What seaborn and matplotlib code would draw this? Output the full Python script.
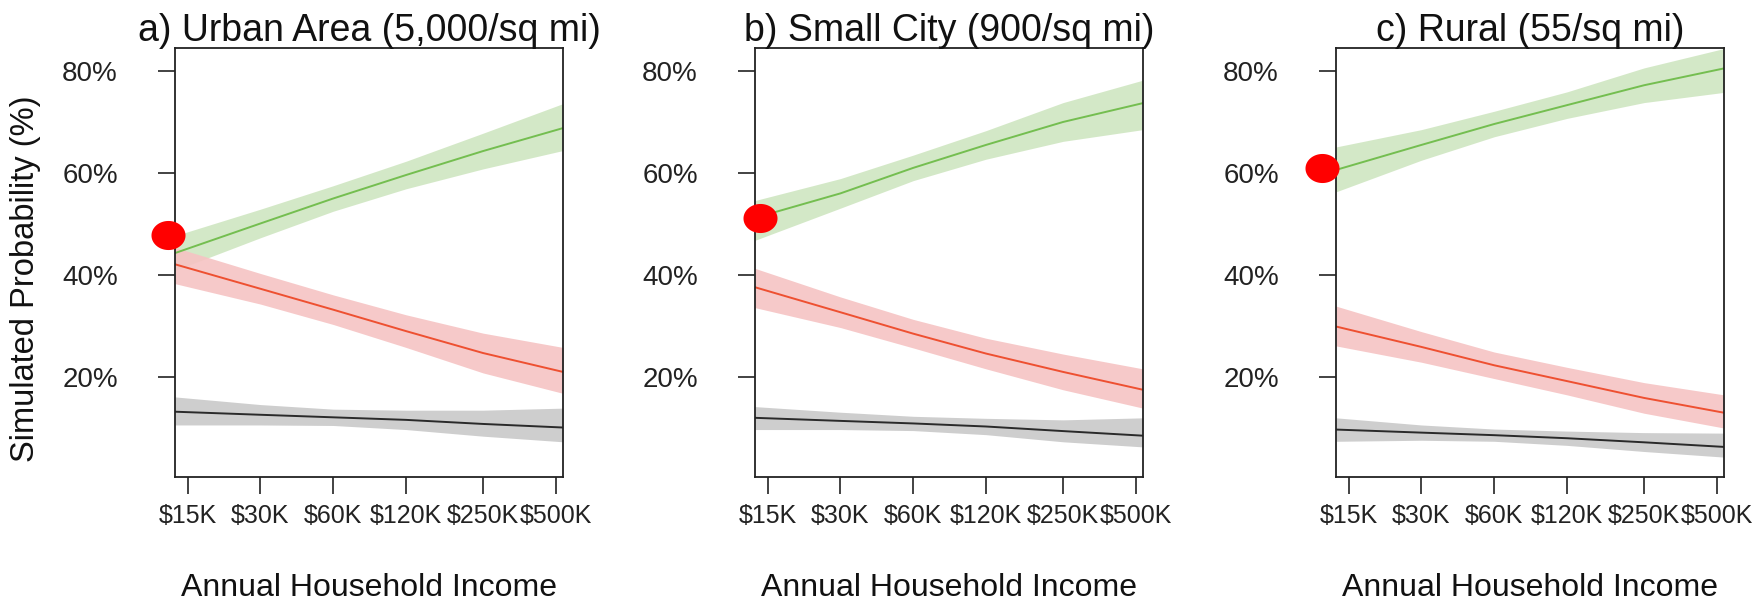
import matplotlib.pyplot as plt
import numpy as np
import pandas as pd
import seaborn as sns
from matplotlib.path import Path
from matplotlib.ticker import FixedLocator, NullLocator

# income grid in $K (first and last points sit on the panel edges)
income = [13.3, 30, 60, 120, 250, 535]

titles = ["a) Urban Area (5,000/sq mi)", "b) Small City (900/sq mi)", "c) Rural (55/sq mi)"]

green_mean = [[44.3, 50.1, 55.0, 59.6, 64.3, 68.8],
              [51.2, 56.0, 61.0, 65.5, 70.0, 73.7],
              [60.6, 65.5, 69.6, 73.3, 77.2, 80.5]]
green_lo = [[40.9, 47.3, 52.5, 56.9, 60.8, 64.4],
            [46.8, 53.1, 58.5, 62.7, 66.2, 68.5],
            [56.3, 62.5, 67.1, 70.7, 73.8, 75.8]]
green_hi = [[47.7, 52.9, 57.5, 62.3, 67.8, 73.6],
            [54.6, 58.9, 63.5, 68.3, 73.8, 78.2],
            [65.1, 68.5, 72.1, 75.9, 80.6, 84.4]]

red_mean = [[42.1, 37.3, 33.2, 29.0, 24.7, 21.0],
            [37.6, 32.7, 28.5, 24.6, 21.0, 17.5],
            [29.9, 25.9, 22.3, 19.2, 15.9, 13.0]]
red_lo = [[38.3, 34.3, 30.3, 25.8, 20.8, 16.8],
          [33.6, 29.7, 25.7, 21.6, 17.5, 13.9],
          [26.1, 22.9, 19.7, 16.5, 12.9, 10.0]]
red_hi = [[45.4, 40.3, 36.1, 32.2, 28.6, 25.8],
          [41.3, 35.7, 31.3, 27.6, 24.5, 21.6],
          [33.9, 28.9, 24.9, 21.9, 18.9, 16.5]]

gray_mean = [[13.2, 12.6, 12.1, 11.6, 10.8, 10.1],
             [12.0, 11.4, 10.9, 10.3, 9.4, 8.5],
             [9.7, 9.1, 8.6, 8.0, 7.2, 6.3]]
gray_lo = [[10.6, 10.6, 10.5, 9.7, 8.4, 7.3],
           [9.7, 9.7, 9.5, 8.7, 7.3, 6.3],
           [7.4, 7.6, 7.4, 6.6, 5.4, 4.3]]
gray_hi = [[16.1, 14.6, 13.7, 13.5, 13.5, 13.9],
           [14.2, 13.1, 12.3, 11.9, 11.6, 12.0],
           [12.0, 10.6, 9.8, 9.4, 9.1, 9.0]]

# red reference dots (income $K, probability %)
dot_income = [12.5, 13.9, 11.6]
dot_value = [47.8, 51.2, 60.9]

xticks = [15, 30, 60, 120, 250, 500]
xticklabels = ["$15K", "$30K", "$60K", "$120K", "$250K", "$500K"]
yticks = [20, 40, 60, 80]
yticklabels = ["20%", "40%", "60%", "80%"]

sns.set_theme(style="white")
plt.rcParams['font.family'] = ['Liberation Sans', 'DejaVu Sans']

series = [("green", green_mean, green_lo, green_hi, "#74be50", "#cfe6c1"),
          ("red", red_mean, red_lo, red_hi, "#ee5031", "#f6c3c3"),
          ("gray", gray_mean, gray_lo, gray_hi, "#2a2a2a", "#c9c9c9")]

rows = []
for p in range(3):
    for name, mean, lo, hi, _, _ in series:
        for i, x in enumerate(income):
            rows.append({"panel": p, "outcome": name, "income": x,
                         "mean": mean[p][i], "lo": lo[p][i], "hi": hi[p][i]})
df = pd.DataFrame(rows)

theta = np.linspace(0, 2 * np.pi, 80)
ellipse = Path(np.column_stack([1.17 * np.cos(theta), np.sin(theta)]))

fig = plt.figure(figsize=(17.63, 6.06), dpi=100)
lefts = [175, 755, 1336]
W, H = 1763.0, 606.0

for p in range(3):
    ax = fig.add_axes([lefts[p] / W, (H - 477) / H, 388 / W, 429 / H])
    sub = df[df.panel == p]
    for name, _, _, _, lc, fc in series:
        s = sub[sub.outcome == name]
        ax.fill_between(s["income"], s["lo"], s["hi"], color=fc, lw=0, alpha=0.9)
    for name, _, _, _, lc, fc in series:
        s = sub[sub.outcome == name]
        sns.lineplot(data=s, x="income", y="mean", color=lc, lw=1.4, ax=ax)
    ax.plot([dot_income[p]], [dot_value[p]], marker=ellipse, ms=24.5, color="#ff0000",
            mec="none", clip_on=False, zorder=10)

    ax.set_xscale("log")
    ax.set_xlim(13.3, 535)
    ax.set_ylim(0.4, 84.5)
    ax.xaxis.set_major_locator(FixedLocator(xticks))
    ax.xaxis.set_minor_locator(NullLocator())
    ax.set_xticklabels(xticklabels, fontsize=18)
    ax.set_yticks(yticks)
    ax.set_yticklabels(yticklabels, fontsize=20)
    ax.tick_params(axis="both", direction="out", length=12.2, width=1.2, color="#222222",
                   labelcolor="#222222", left=True, bottom=True)
    ax.tick_params(axis="y", pad=29)
    ax.tick_params(axis="x", pad=7)
    for sp in ax.spines.values():
        sp.set_visible(True)
        sp.set_color("#222222")
        sp.set_linewidth(1.3)
    ax.set_title(titles[p], fontsize=27, pad=5, color="#111111")
    ax.set_xlabel("Annual Household Income", fontsize=23, labelpad=33, color="#111111")
    if p == 0:
        ax.set_ylabel("Simulated Probability (%)", fontsize=23.5, color="#111111")
        ax.yaxis.set_label_coords(-0.345, 0.4615)
    else:
        ax.set_ylabel("")

fig.savefig("out.png", dpi=100)
